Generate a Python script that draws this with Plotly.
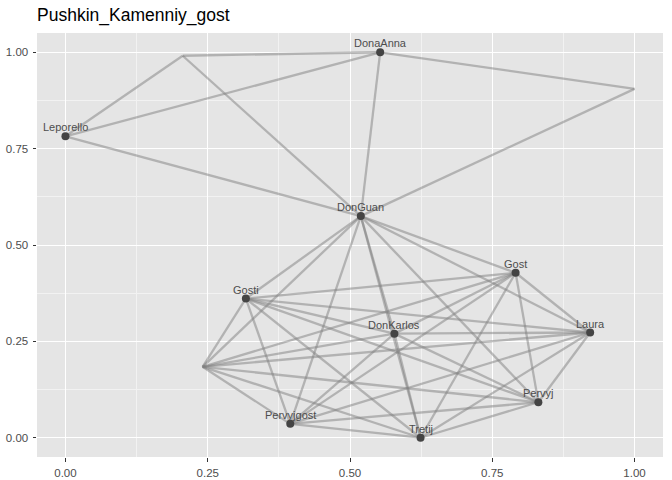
import plotly.graph_objects as go
from itertools import combinations

# ---- data ----
node_names = ["DonaAnna", "Leporello", "DonGuan", "Gost", "Gosti", "DonKarlos",
              "Laura", "Pervyj", "Pervyjgost", "Tretij", "n11", "n12", "n13"]
node_labels = ["DonaAnna", "Leporello", "DonGuan", "Gost", "Gosti", "DonKarlos",
               "Laura", "Pervyj", "Pervyjgost", "Tretij", "", "", ""]
node_x = [0.553, 0.0, 0.519, 0.791, 0.317, 0.578, 0.922, 0.831, 0.395, 0.624, 0.206, 1.0, 0.241]
node_y = [1.0, 0.782, 0.575, 0.428, 0.361, 0.270, 0.273, 0.092, 0.036, 0.0, 0.991, 0.905, 0.184]
node_visible = [True] * 10 + [False] * 3

top_edges = [("n11", "DonaAnna"), ("n11", "Leporello"), ("n11", "DonGuan"),
             ("Leporello", "DonaAnna"), ("Leporello", "DonGuan"),
             ("DonaAnna", "DonGuan"), ("DonaAnna", "n12"), ("n12", "DonGuan")]
cluster = ["DonGuan", "Gost", "Gosti", "DonKarlos", "Laura", "Pervyj",
           "Pervyjgost", "Tretij", "n13"]
edges = top_edges + list(combinations(cluster, 2))

tick_vals = [0.0, 0.25, 0.5, 0.75, 1.0]
tick_text = ["0.00", "0.25", "0.50", "0.75", "1.00"]
title_text = "Pushkin_Kamenniy_gost"

FONT = "Liberation Sans, Arial, Helvetica, sans-serif"
idx = {n: i for i, n in enumerate(node_names)}

fig = go.Figure()
for a, b in edges:
    i, j = idx[a], idx[b]
    fig.add_trace(go.Scatter(
        x=[node_x[i], node_x[j]], y=[node_y[i], node_y[j]],
        mode="lines", line=dict(color="rgba(127,127,127,0.5)", width=2.3),
        hoverinfo="skip", showlegend=False))

vx = [x for x, v in zip(node_x, node_visible) if v]
vy = [y for y, v in zip(node_y, node_visible) if v]
vl = [l for l, v in zip(node_labels, node_visible) if v]
fig.add_trace(go.Scatter(
    x=vx, y=vy, mode="markers",
    marker=dict(color="#444444", size=8),
    showlegend=False, hoverinfo="skip"))

for x, y, lab in zip(vx, vy, vl):
    fig.add_annotation(x=x, y=y, text=lab, showarrow=False, xanchor="center",
                       yanchor="bottom", yshift=1,
                       font=dict(family=FONT, size=11, color="#4d4d4d"))

axis_common = dict(
    range=[-0.05, 1.05], tickvals=tick_vals, ticktext=tick_text,
    showgrid=True, gridcolor="white", gridwidth=1.1,
    minor=dict(dtick=0.125, tick0=0.125, showgrid=True, gridcolor="#f2f2f2", gridwidth=0.5, ticks=""),
    zeroline=False, ticks="outside", ticklen=3.5, tickcolor="#333333", tickwidth=1,
    tickfont=dict(family=FONT, size=11.5, color="#4d4d4d"),
    showline=False, fixedrange=True, automargin=False)

fig.update_layout(
    width=672, height=480,
    margin=dict(l=37, r=9, t=33, b=23, pad=0),
    paper_bgcolor="white", plot_bgcolor="#e5e5e5",
    title=dict(text=title_text, x=37 / 672, xanchor="left", y=1 - 15 / 480, yanchor="middle",
               font=dict(family=FONT, size=17.5, color="black")),
    xaxis=dict(**axis_common, ticklabelstandoff=2),
    yaxis=dict(**axis_common, ticklabelstandoff=2),
)

fig.write_html("out.html", config={"displayModeBar": False},
               post_script="document.body.style.margin='0px';")
